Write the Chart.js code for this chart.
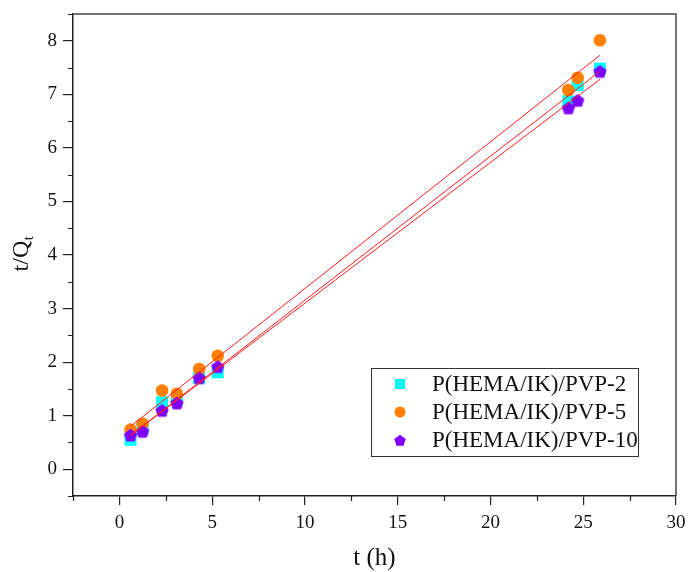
<!DOCTYPE html>
<html>
<head>
<meta charset="utf-8">
<script src="https://cdn.jsdelivr.net/npm/chart.js@4"></script>
<style>
  html, body { margin: 0; padding: 0; background: #fff; }
  #wrap { width: 688px; height: 572px; }
</style>
</head>
<body>
<div id="wrap"><canvas id="kinetics"></canvas></div>
<script>
// sampling times (h)
const times = [0.6, 1.25, 2.3, 3.1, 4.3, 5.3, 24.2, 24.7, 25.9];
// t/Qt for each hydrogel
const pvp2 = [0.55, 0.75, 1.25, 1.30, 1.70, 1.81, 6.87, 7.17, 7.48];
const pvp5 = [0.74, 0.85, 1.47, 1.41, 1.87, 2.12, 7.08, 7.31, 8.01];
const pvp10 = [0.64, 0.71, 1.10, 1.24, 1.71, 1.92, 6.75, 6.89, 7.43];
// linear fits, value at first and last time
const fitTimes = [0.6, 25.9];
const fit2 = [0.63, 7.43];
const fit5 = [0.80, 7.73];
const fit10 = [0.63, 7.28];
// tick labels
const xTicks = [0, 5, 10, 15, 20, 25, 30];
const yTicks = [0, 1, 2, 3, 4, 5, 6, 7, 8];
const seriesNames = ['P(HEMA/IK)/PVP-2', 'P(HEMA/IK)/PVP-5', 'P(HEMA/IK)/PVP-10'];

const CYAN = '#00ffff', ORANGE = '#ff8000', PURPLE = '#8000ff', FIT = '#ff1a1a';
const SERIF = '"Liberation Serif", "Times New Roman", serif';

const pts = (xs, ys) => xs.map((x, i) => ({ x: x, y: ys[i] }));

// Chart.js has no pentagon marker, so draw one on a small canvas
function pentagon(r, color) {
  const s = Math.ceil(r * 2) + 2;
  const c = document.createElement('canvas');
  c.width = s; c.height = s;
  const g = c.getContext('2d');
  g.beginPath();
  for (let i = 0; i < 5; i++) {
    const a = -Math.PI / 2 + i * 2 * Math.PI / 5;
    const px = s / 2 + r * Math.cos(a), py = s / 2 + r * Math.sin(a) + 0.8;
    i ? g.lineTo(px, py) : g.moveTo(px, py);
  }
  g.closePath();
  g.fillStyle = color;
  g.fill();
  return c;
}

const fitLine = (ys) => ({
  type: 'line',
  data: pts(fitTimes, ys),
  borderColor: FIT,
  borderWidth: 1,
  pointRadius: 0,
  fill: false,
  order: 0
});

const data = {
  datasets: [
    { label: seriesNames[0], data: pts(times, pvp2), pointStyle: 'rect', pointRadius: 8.5,
      backgroundColor: CYAN, borderWidth: 0, order: 3 },
    { label: seriesNames[1], data: pts(times, pvp5), pointStyle: 'circle', pointRadius: 6.3,
      backgroundColor: ORANGE, borderWidth: 0, order: 2 },
    { label: seriesNames[2], data: pts(times, pvp10), pointStyle: pentagon(7, PURPLE), pointRadius: 7,
      backgroundColor: PURPLE, borderWidth: 0, order: 1 },
    fitLine(fit2), fitLine(fit5), fitLine(fit10)
  ]
};

// frame, minor ticks, axis titles and the legend box
const decorations = {
  id: 'decorations',
  afterDraw(chart) {
    const ctx = chart.ctx, ca = chart.chartArea;
    const xs = chart.scales.x, ys = chart.scales.y;
    ctx.save();

    // top and right edges of the frame
    ctx.strokeStyle = '#444';
    ctx.lineWidth = 1.5;
    ctx.beginPath();
    ctx.moveTo(ca.left, ca.top);
    ctx.lineTo(ca.right, ca.top);
    ctx.lineTo(ca.right, ca.bottom);
    ctx.stroke();

    // minor ticks
    ctx.strokeStyle = '#222';
    ctx.lineWidth = 1.2;
    ctx.beginPath();
    for (let v = -2.5; v <= 30; v += 5) {
      const px = Math.round(xs.getPixelForValue(v)) + 0.5;
      ctx.moveTo(px, ca.bottom);
      ctx.lineTo(px, ca.bottom + 5);
    }
    for (let v = -0.5; v <= 8.5; v += 1) {
      const py = Math.round(ys.getPixelForValue(v)) + 0.5;
      ctx.moveTo(ca.left, py);
      ctx.lineTo(ca.left - 5, py);
    }
    ctx.stroke();

    // axis titles
    ctx.fillStyle = '#111';
    ctx.font = '25px ' + SERIF;
    ctx.textAlign = 'center';
    ctx.textBaseline = 'middle';
    ctx.fillText('t (h)', (ca.left + ca.right) / 2, 558);

    ctx.translate(22, 254);
    ctx.rotate(-Math.PI / 2);
    ctx.textAlign = 'left';
    const main = 't/Q';
    ctx.font = '24px ' + SERIF;
    const wMain = ctx.measureText(main).width;
    ctx.font = '15px ' + SERIF;
    const wSub = ctx.measureText('t').width;
    const x0 = -(wMain + wSub) / 2;
    ctx.font = '24px ' + SERIF;
    ctx.fillText(main, x0, 0);
    ctx.font = '15px ' + SERIF;
    ctx.fillText('t', x0 + wMain + 0.5, 7);
    ctx.setTransform(1, 0, 0, 1, 0, 0);

    // legend
    const bx = ca.right - 305, by = ca.top + 354, bw = 267, bh = 88;
    ctx.strokeStyle = '#333';
    ctx.lineWidth = 1;
    ctx.strokeRect(bx + 0.5, by + 0.5, bw, bh);
    ctx.font = '23px ' + SERIF;
    ctx.textAlign = 'left';
    ctx.textBaseline = 'middle';
    const markers = [
      (x, y) => { ctx.fillStyle = CYAN; ctx.fillRect(x - 5, y - 5, 10, 10); },
      (x, y) => { ctx.fillStyle = ORANGE; ctx.beginPath(); ctx.arc(x, y, 5.5, 0, 2 * Math.PI); ctx.fill(); },
      (x, y) => { const p = pentagon(6, PURPLE); ctx.drawImage(p, x - p.width / 2, y - p.height / 2); }
    ];
    seriesNames.forEach((name, i) => {
      const cy = by + 16 + i * 28;
      markers[i](bx + 29, cy);
      ctx.fillStyle = '#111';
      ctx.fillText(name, bx + 61, cy + 1);
    });
    ctx.restore();
  }
};

const tickFont = { family: SERIF, size: 19 };

const options = {
  responsive: true,
  maintainAspectRatio: false,
  animation: false,
  layout: { padding: { top: 14, right: 12, left: 0, bottom: 0 } },
  plugins: { legend: { display: false }, tooltip: { enabled: false } },
  scales: {
    x: {
      type: 'linear',
      min: -2.5,
      max: 30,
      afterBuildTicks: s => { s.ticks = xTicks.map(v => ({ value: v })); },
      afterFit: s => { s.height = 76; s.paddingLeft = 0; s.paddingRight = 0; },
      grid: { drawOnChartArea: false, drawTicks: true, tickLength: 9, color: '#222', lineWidth: 1.2 },
      border: { display: true, color: '#222', width: 1.5 },
      ticks: { padding: 7, font: tickFont, color: '#111', maxRotation: 0 }
    },
    y: {
      type: 'linear',
      min: -0.5,
      max: 8.5,
      afterBuildTicks: s => { s.ticks = yTicks.map(v => ({ value: v })); },
      afterFit: s => { s.width = 73; s.paddingTop = 0; s.paddingBottom = 0; },
      grid: { drawOnChartArea: false, drawTicks: true, tickLength: 10, color: '#222', lineWidth: 1.2 },
      border: { display: true, color: '#222', width: 1.5 },
      ticks: { padding: 6, font: tickFont, color: '#111' }
    }
  }
};

new Chart(document.getElementById('kinetics'), {
  type: 'scatter',
  data: data,
  options: options,
  plugins: [decorations]
});
</script>
</body>
</html>
